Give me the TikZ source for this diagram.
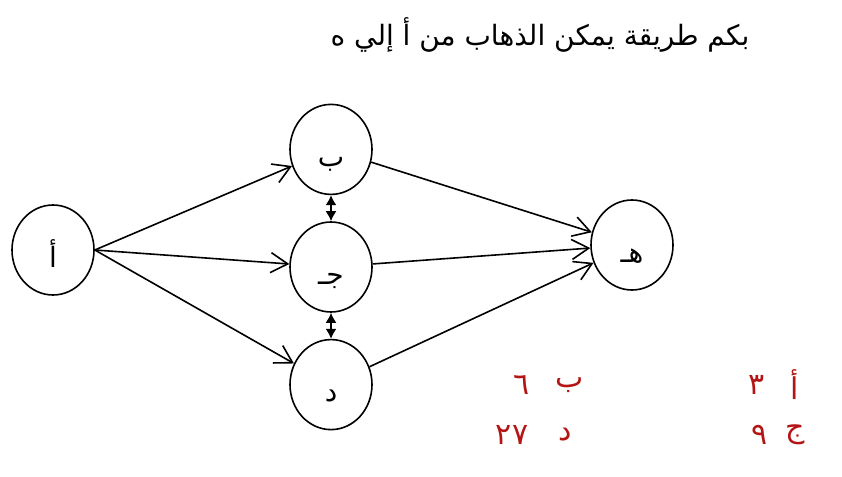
\documentclass[tikz,border=0pt]{standalone}
\usepackage{fontspec}
\newfontfamily\arabicfont[Script=Arabic]{DejaVu Sans}
\TeXXeTstate=1
\usetikzlibrary{arrows.meta,positioning,shapes.geometric}
\definecolor{anscol}{RGB}{180,20,20}

\begin{document}
\begin{tikzpicture}[x=1pt,y=-1pt,
  stn/.style={draw,ellipse,line width=1.6pt,minimum width=82pt,minimum height=90pt,inner sep=0pt,text height=34pt,text depth=0pt,font=\arabicfont\fontsize{28}{32}\selectfont},
  way/.style={-{Straight Barb[length=17pt,width=20pt]},line width=1.6pt},
  swap/.style={{Latex[length=10pt,width=11pt]}-{Latex[length=10pt,width=11pt]},line width=1.6pt},
  ans/.style={text=anscol,font=\arabicfont\fontsize{30}{34}\selectfont},
  node distance=26pt]
\useasboundingbox (0,0) rectangle (842,476);
\node[font=\arabicfont\fontsize{28}{32}\selectfont] (title) at (540,35) {\beginR بكم طريقة يمكن الذهاب من أ إلي ه\endR};
\node[stn] (a) at (53,250) {\beginR أ\endR};
\node[stn] (j) at (331,267) {\beginR جـ\endR};
\node[stn,above=of j] (b) {\beginR ب\endR};
\node[stn,below=of j] (d) {\beginR د\endR};
\node[stn] (h) at (632,245) {\beginR هـ\endR};
\draw[way] (a.east) -- (b); \draw[way] (a.east) -- (j); \draw[way] (a.east) -- (d);
\draw[way] (b) -- (h); \draw[way] (j) -- (h); \draw[way] (d) -- (h);
\draw[swap] (b) -- (j); \draw[swap] (j) -- (d);
% counts
\node[ans] (ka) at (795,385) {\beginR أ\endR};
\node[ans] (va) at (757,385) {٣};
\node[ans] (kb) at (570,385) {\beginR ب\endR};
\node[ans] (vb) at (522,385) {٦};
\node[ans] (kj) at (795,435) {\beginR ج\endR};
\node[ans] (vj) at (760,435) {٩};
\node[ans] (kd) at (565,435) {\beginR د\endR};
\node[ans] (vd) at (512,435) {٢٧};
\end{tikzpicture}
\end{document}
